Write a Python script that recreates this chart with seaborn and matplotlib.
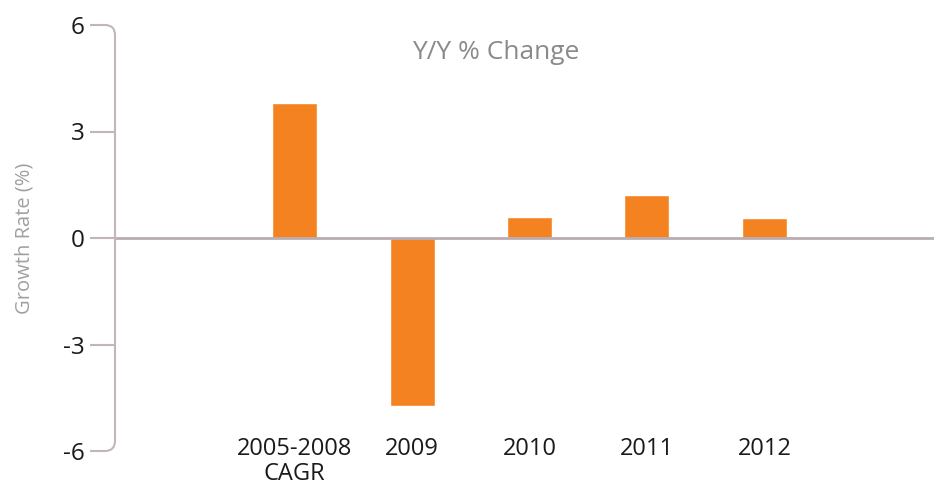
import numpy as np
import pandas as pd
import matplotlib
matplotlib.use("Agg")
import matplotlib.pyplot as plt
import seaborn as sns
from matplotlib.path import Path
from matplotlib.patches import PathPatch
from matplotlib.transforms import IdentityTransform

categories = ["2005-2008\nCAGR", "2009", "2010", "2011", "2012"]
growth = [3.8, -4.72, 0.59, 1.21, 0.56]
yticks = [-6, -3, 0, 3, 6]
ytick_labels = ["-6", "-3", "0", "3", "6"]

df = pd.DataFrame({"period": categories, "growth": growth})

sns.set_theme(style="white")
plt.rcParams["font.family"] = ["Open Sans", "DejaVu Sans"]

W, H = 934, 487
fig = plt.figure(figsize=(W / 100, H / 100), dpi=100)
ax = fig.add_axes([115 / W, 1 - 451 / H, (934 - 115) / W, (451 - 25) / H])

axis_col = "#c2b6b9"
bar_col = "#f48221"

sns.barplot(data=df, x="period", y="growth", color=bar_col, width=0.383,
            saturation=1, ax=ax, zorder=2)
ax.axhline(0, color="#b9adb0", lw=2, zorder=3)

ax.set_ylim(-6, 6)
ax.set_xlim(-1.528, 5.443)
ax.set_yticks(yticks)
ax.set_yticklabels(ytick_labels, fontsize=17.5, color="#1a1a1a")
ax.set_xlabel("")
ax.set_ylabel("Growth Rate (%)", fontsize=14.5, color="#a0a0a0", labelpad=20)

for s in ax.spines.values():
    s.set_visible(False)

ax.tick_params(axis="y", length=18, width=1.5, color=axis_col, pad=4, left=True)
ax.tick_params(axis="x", length=0, pad=-10, labelsize=17, labelcolor="#1a1a1a")
for lab in ax.get_xticklabels():
    lab.set_ha("center")
    lab.set_linespacing(1.05)
ticks = ax.yaxis.get_major_ticks()
ticks[0].tick1line.set_visible(False)
ticks[-1].tick1line.set_visible(False)

ax.set_title("Y/Y % Change", fontsize=19, color="#8a8a8a", x=0.465, y=0.92, pad=0)

# rounded spine with end ticks
fig.canvas.draw()
x0 = ax.get_xlim()[0]
xs, ytop = ax.transData.transform((x0, 6))
_, ybot = ax.transData.transform((x0, -6))
tick_len = 25
r = 10
verts = [
    (xs - tick_len, ytop),
    (xs - r, ytop),
    (xs, ytop),
    (xs, ytop - r),
    (xs, ybot + r),
    (xs, ybot),
    (xs - r, ybot),
    (xs - tick_len, ybot),
]
codes = [Path.MOVETO, Path.LINETO, Path.CURVE3, Path.CURVE3, Path.LINETO,
         Path.CURVE3, Path.CURVE3, Path.LINETO]
patch = PathPatch(Path(verts, codes), transform=IdentityTransform(), fill=False,
                  edgecolor=axis_col, lw=1.5, clip_on=False)
fig.add_artist(patch)

fig.savefig("out.png", dpi=100, facecolor="white")
